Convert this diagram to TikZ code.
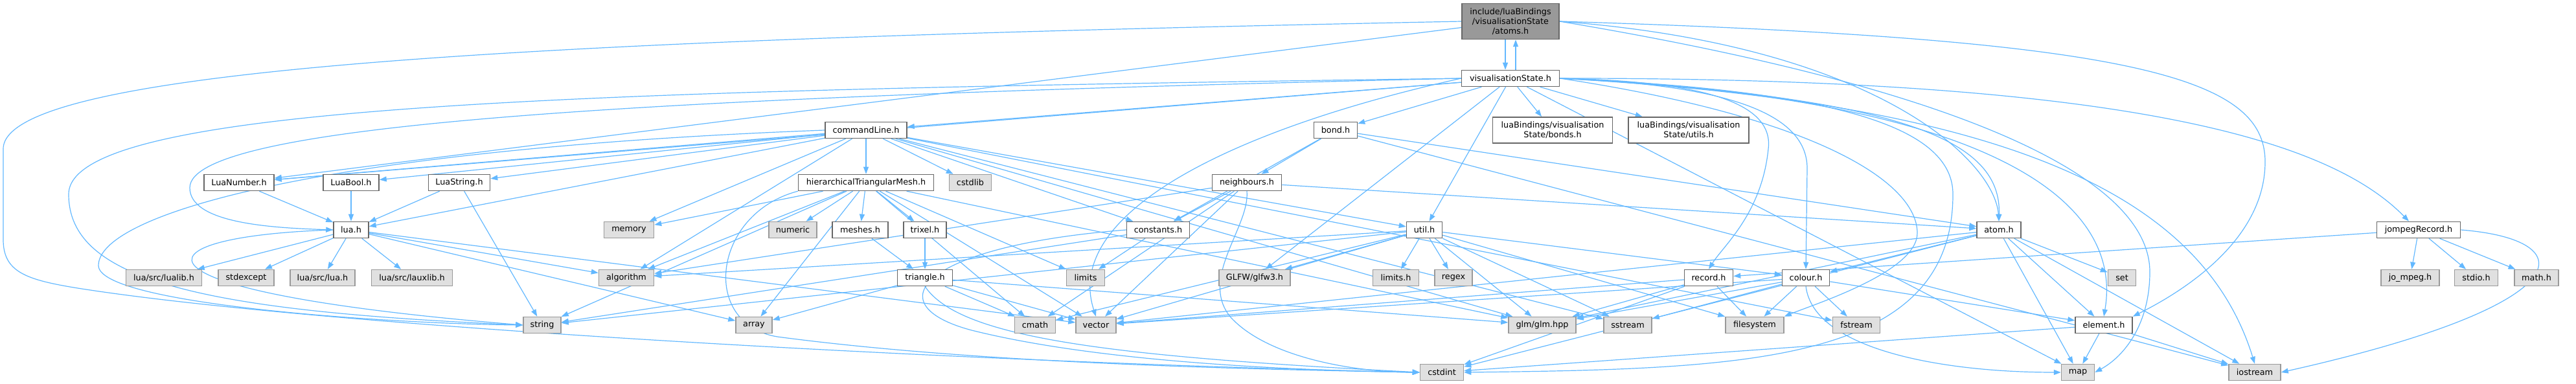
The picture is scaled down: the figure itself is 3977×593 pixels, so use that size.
\documentclass[tikz,border=0pt]{standalone}
\usepackage{fontspec}
\setmainfont{DejaVu Sans}
\usetikzlibrary{arrows.meta,backgrounds}
\definecolor{edgec}{HTML}{63B8FF}
\definecolor{bordw}{HTML}{666666}
\definecolor{bordg}{HTML}{999999}
\definecolor{fillg}{HTML}{E0E0E0}
\definecolor{fillm}{HTML}{999999}
\begin{document}
\begin{tikzpicture}[x=1pt,y=-1pt,
 base/.style={rectangle, inner sep=0pt, minimum height=25pt, line width=1.5pt, font=\fontsize{12.8}{15}\selectfont, align=center},
 wn/.style={base, draw=bordw, fill=white},
 gn/.style={base, draw=bordg, fill=fillg},
 mn/.style={base, draw=bordw, fill=fillm, minimum height=55pt},
 e/.style={draw=edgec, line width=1.2pt, -{Triangle[length=11pt,width=8pt]}},
]
\useasboundingbox (0,0) rectangle (3977,593);
% rank 0-2
\node[mn, minimum width=150pt] (main) at (2332,33) {include/luaBindings\\/visualisationState\\/atoms.h};
\node[wn, minimum width=151pt] (vs) at (2332,121) {visualisationState.h};
\node[wn, minimum width=126pt] (commandLine) at (1337,201) {commandLine.h};
\node[wn, minimum width=67pt] (bond) at (2062,201) {bond.h};
\node[wn, minimum width=185pt, minimum height=40pt] (bonds) at (2397,201) {luaBindings/visualisation\\State/bonds.h};
\node[wn, minimum width=186pt, minimum height=40pt] (utils) at (2607,201) {luaBindings/visualisation\\State/utils.h};
% rank 3
\node[wn, minimum width=108pt] (LuaNumber) at (369,282) {LuaNumber.h};
\node[wn, minimum width=86pt] (LuaBool) at (542,282) {LuaBool.h};
\node[wn, minimum width=95pt] (LuaString) at (709,282) {LuaString.h};
\node[wn, minimum width=209pt] (hTM) at (1337,282) {hierarchicalTriangularMesh.h};
\node[gn, minimum width=65pt] (cstdlib) at (1498,282) {cstdlib};
\node[wn, minimum width=107pt] (neighbours) at (1925,282) {neighbours.h};
% rank 4
\node[wn, minimum width=54pt] (lua) at (542,355) {lua.h};
\node[gn, minimum width=77pt] (memory) at (971,355) {memory};
\node[gn, minimum width=74pt] (numeric) at (1224,355) {numeric};
\node[wn, minimum width=86pt] (meshes) at (1328,355) {meshes.h};
\node[wn, minimum width=66pt] (trixel) at (1428,355) {trixel.h};
\node[wn, minimum width=97pt] (constants) at (1788,355) {constants.h};
\node[wn, minimum width=55pt] (util) at (2199,355) {util.h};
\node[wn, minimum width=68pt] (atom) at (3086,355) {atom.h};
\node[wn, minimum width=129pt] (jompeg) at (3734,355) {jompegRecord.h};
% rank 5
\node[gn, minimum width=117pt] (lualib) at (253,429) {lua/src/lualib.h};
\node[gn, minimum width=86pt] (stdexcept) at (380,429) {stdexcept};
\node[gn, minimum width=100pt] (luasrclua) at (498,429) {lua/src/lua.h};
\node[gn, minimum width=125pt] (lauxlib) at (636,429) {lua/src/lauxlib.h};
\node[gn, minimum width=85pt] (algorithm) at (967,429) {algorithm};
\node[wn, minimum width=85pt] (triangle) at (1428,429) {triangle.h};
\node[gn, minimum width=59pt] (limits) at (1676,429) {limits};
\node[gn, minimum width=110pt] (glfw) at (1937,429) {GLFW/glfw3.h};
\node[gn, minimum width=71pt] (limitsh) at (2155,429) {limits.h};
\node[gn, minimum width=58pt] (regex) at (2244,429) {regex};
\node[wn, minimum width=75pt] (record) at (2638,429) {record.h};
\node[wn, minimum width=73pt] (colour) at (2788,429) {colour.h};
\node[gn, minimum width=43pt] (set) at (3276,429) {set};
\node[gn, minimum width=90pt] (jompg) at (3721,429) {jo\_mpeg.h};
\node[gn, minimum width=67pt] (stdio) at (3823,429) {stdio.h};
\node[gn, minimum width=68pt] (math) at (3916,429) {math.h};
% rank 6
\node[gn, minimum width=58pt] (string) at (837,502) {string};
\node[gn, minimum width=56pt] (array) at (1164,502) {array};
\node[gn, minimum width=63pt] (cmath) at (1598,502) {cmath};
\node[gn, minimum width=62pt] (vector) at (1692,502) {vector};
\node[gn, minimum width=104pt] (glm) at (2381,502) {glm/glm.hpp};
\node[gn, minimum width=74pt] (sstream) at (2513,502) {sstream};
\node[gn, minimum width=90pt] (filesystem) at (2709,502) {filesystem};
\node[gn, minimum width=73pt] (fstream) at (2866,502) {fstream};
\node[wn, minimum width=88pt] (element) at (3248,502) {element.h};
% rank 7
\node[gn, minimum width=67pt] (cstdint) at (2226,575) {cstdint};
\node[gn, minimum width=51pt] (map) at (3208,575) {map};
\node[gn, minimum width=80pt] (iostream) at (3481,575) {iostream};

\begin{pgfonlayer}{background}
\draw[e] ([xshift=-8pt]main.south) -- ([xshift=-8pt]vs.north);
\draw[e] ([xshift=8pt]vs.north) -- ([xshift=8pt]main.south);
% curved long edges
\draw[e] (main.west) .. controls (900,60) and (5,100) .. (5,230) -- (5,370) .. controls (5,420) and (40,432) .. (120,445) .. controls (500,505) and (1500,560) .. (cstdint.west);
\draw[e] (vs.west) .. controls (900,140) and (106,160) .. (106,300) .. controls (106,430) and (300,480) .. (string.west);
\draw[e] (vs.west) .. controls (1000,150) and (293,190) .. (293,290) .. controls (293,345) and (420,352) .. (lua.west);
\draw[e] (lua.west) .. controls (200,365) and (170,450) .. (string.west);
\draw[e] (commandLine.west) .. controls (500,230) and (152,330) .. (152,410) .. controls (152,470) and (600,500) .. (string.west);
\draw[e] (main.east) .. controls (3300,60) and (3497,120) .. (3497,250) .. controls (3497,380) and (3350,460) .. (element.north east);
\draw[e] (vs.east) .. controls (2850,140) and (3015,200) .. (3015,300) .. controls (3015,560) and (2700,570) .. (cstdint.east);
\draw[e] (jompeg.east) .. controls (3990,370) and (3990,470) .. (iostream.east);
\draw[e] (hTM.south west) .. controls (1100,330) and (1080,500) .. (1200,520) .. controls (1500,560) and (1900,570) .. (cstdint.west);
\draw[e] (constants.west) .. controls (1420,380) and (1350,470) .. (1500,510) .. controls (1700,560) and (2000,572) .. (cstdint.west);
\draw[e] (neighbours.south) .. controls (1930,350) and (1850,430) .. (1900,490) .. controls (1960,555) and (2100,575) .. (cstdint.west);
\draw[e] (triangle.south) .. controls (1480,520) and (1700,550) .. (cstdint.west);
\draw[e] (colour.south) .. controls (2800,540) and (3000,575) .. (map.west);
\draw[e] (vs.west) .. controls (1900,200) and (1640,330) .. (vector.north);
\draw[e] (main.east) .. controls (3050,140) and (3319,280) .. (3319,420) .. controls (3319,500) and (3280,550) .. (map.east);
\draw[e] (vs.east) .. controls (3100,160) and (3400,300) .. (iostream.north);
\draw[e] (vs.east) .. controls (3050,150) and (3280,300) .. (element.north);
\draw[e] (vs.east) .. controls (3300,120) and (3600,220) .. ([xshift=-15pt]jompeg.north);
\draw[e] (vs.east) .. controls (2950,150) and (3090,220) .. (atom.north);
\draw[e] (main.east) .. controls (2900,70) and (3080,250) .. (atom.north);
\draw[e] (vs.east) .. controls (2600,125) and (2740,150) .. (2730,230) .. controls (2720,330) and (2660,380) .. (record.north);
\draw[e] (vs.east) .. controls (2650,130) and (2790,170) .. (2790,260) -- (colour.north);
\draw[e] (vs.east) .. controls (2800,180) and (2960,280) .. (2960,360) .. controls (2960,420) and (2800,470) .. (filesystem.north east);
% straight edges
\foreach \a/\b in {main/LuaNumber,
 vs/commandLine, vs/bond, vs/bonds, vs/utils, vs/util, vs/glfw, vs/LuaNumber, vs/map,
 commandLine/LuaNumber, commandLine/LuaBool, commandLine/LuaString, commandLine/lua, commandLine/algorithm,
 commandLine/memory, commandLine/hTM, commandLine/cstdlib, commandLine/constants, commandLine/util,
 commandLine/glm, commandLine/sstream, commandLine/fstream,
 bond/neighbours, bond/constants, bond/atom, bond/iostream,
 LuaNumber/lua, LuaBool/lua, LuaString/lua, LuaString/string,
 hTM/memory, hTM/string, hTM/array, hTM/numeric, hTM/meshes, hTM/trixel, hTM/cmath, hTM/vector,
 hTM/limits, hTM/glm, hTM/algorithm,
 neighbours/constants, neighbours/cmath, neighbours/vector, neighbours/algorithm, neighbours/atom,
 lua/lualib, lua/stdexcept, lua/luasrclua, lua/lauxlib, lua/algorithm, lua/array, lua/vector,
 meshes/triangle, trixel/triangle,
 constants/limits, constants/string,
 util/limitsh, util/regex, util/glm, util/sstream, util/vector, util/glfw, util/cmath, util/string,
 util/algorithm, util/colour, util/filesystem,
 atom/set, atom/element, atom/map, atom/iostream, atom/cstdint, atom/glm, atom/vector, atom/colour,
 jompeg/jompg, jompeg/stdio, jompeg/math, jompeg/record,
 triangle/array, triangle/cmath, triangle/vector, triangle/glm,
 record/glm, record/cstdint, record/filesystem, record/vector,
 colour/glm, colour/sstream, colour/filesystem, colour/fstream, colour/vector, colour/element,
 element/map, element/iostream, element/cstdint}
 {\draw[e] (\a) -- (\b);}
\end{pgfonlayer}
\end{tikzpicture}
\end{document}
